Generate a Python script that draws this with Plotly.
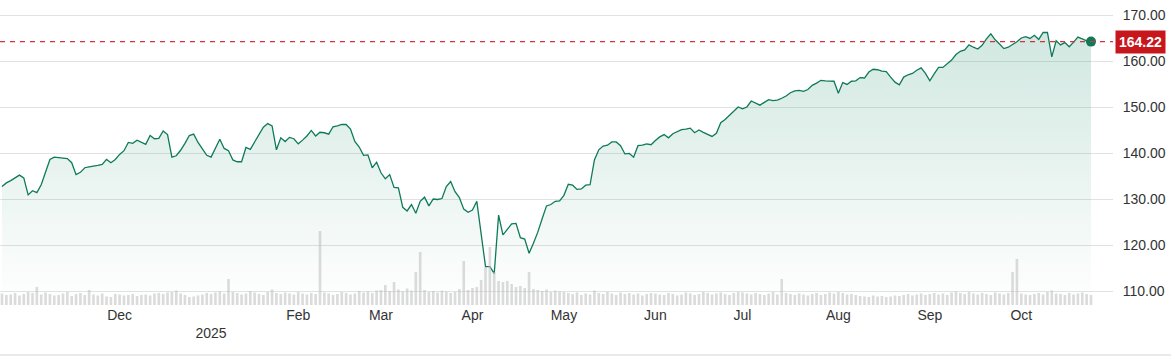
import pandas as pd
import plotly.graph_objects as go

# ---- data ----
holidays = ["2024-11-28", "2024-12-25", "2025-01-01", "2025-01-09", "2025-01-20",
            "2025-02-17", "2025-04-18", "2025-05-26", "2025-06-19", "2025-07-04", "2025-09-01"]
dates = [d.strftime("%Y-%m-%d") for d in pd.bdate_range("2024-10-23", "2025-10-23")
         if d.strftime("%Y-%m-%d") not in holidays]

close = [
    # Oct 2024
    132.7, 133.5, 134.0, 134.6, 135.2, 134.6, 130.9,
    # Nov
    131.8, 131.4, 133.1, 135.8, 138.6, 139.1, 139.0, 138.9, 138.8, 137.9,
    135.3, 135.8, 136.8, 137.0, 137.1, 137.3, 137.5, 138.6, 137.9, 138.6,
    # Dec
    139.7, 140.5, 142.3, 142.1, 142.8, 142.3, 141.9, 143.8, 143.1, 143.2, 144.8,
    144.0, 139.1, 139.4, 140.6, 142.1, 143.8, 144.1, 142.3, 140.9, 139.5,
    # Jan 2025
    139.1, 141.2, 143.0, 141.0, 140.5, 138.5, 138.1, 138.1, 141.2, 140.8,
    142.4, 144.0, 145.6, 146.4, 145.9, 140.7, 143.3, 142.5, 143.4, 143.1,
    # Feb
    142.0, 142.8, 143.7, 144.9, 143.7, 144.5, 144.4, 144.1, 145.7, 145.9,
    146.2, 146.2, 145.2, 142.5, 141.3, 139.5, 139.6, 136.8, 138.0,
    # Mar
    135.7, 134.4, 135.3, 132.5, 132.4, 128.2, 127.4, 128.8, 126.9, 129.5, 130.4,
    128.5, 130.0, 129.9, 130.1, 132.7, 133.8, 131.6, 130.3, 127.8, 127.1,
    # Apr
    127.6, 129.5, 122.5, 115.3, 115.3, 113.8, 126.5, 122.2, 123.4, 124.6, 124.7,
    121.6, 121.3, 118.2, 120.4, 122.8, 125.7, 128.5, 128.8, 129.5, 129.6,
    # May
    130.8, 133.2, 133.0, 132.1, 132.2, 133.0, 133.1, 138.5, 140.7, 141.5, 141.7,
    142.4, 142.4, 141.6, 139.8, 139.9, 139.1, 141.6, 141.7, 142.0, 141.8,
    # Jun
    142.7, 143.5, 144.0, 143.3, 144.2, 144.6, 145.1, 145.2, 145.4, 144.4,
    145.0, 144.5, 144.1, 143.6, 144.3, 146.6, 147.3, 148.2, 149.2, 150.0,
    # Jul
    149.6, 150.0, 151.3, 150.8, 150.4, 151.0, 151.6, 151.4, 151.5, 151.9, 152.4,
    153.1, 153.5, 153.6, 153.4, 153.8, 154.7, 155.2, 155.8, 155.7, 155.6, 155.6,
    # Aug
    153.0, 155.3, 154.9, 155.6, 155.7, 156.4, 156.3, 157.6, 158.2, 158.1, 157.8,
    157.7, 156.5, 155.4, 154.8, 156.5, 157.0, 157.3, 158.0, 158.5, 157.3,
    # Sep
    155.7, 157.2, 158.6, 158.6, 159.3, 160.2, 161.4, 162.1, 162.4, 163.5, 163.0,
    162.6, 163.4, 164.8, 165.9, 164.6, 163.7, 162.7, 163.0, 163.6, 164.2,
    # Oct
    165.0, 165.3, 164.9, 165.6, 164.7, 166.2, 166.2, 160.9, 164.4, 163.5,
    164.0, 163.1, 164.1, 165.2, 164.8, 164.4, 164.22,
]

volume = [
    2.3, 2.0, 2.1, 2.4, 1.9, 2.2, 2.6,
    2.4, 3.6, 2.1, 2.5, 2.2, 1.9, 2.0, 2.3, 2.6, 1.8, 2.2, 2.4, 2.0, 3.0, 2.1, 1.9, 2.3, 1.7, 1.6, 2.2,
    2.1, 1.9, 2.0, 2.2, 1.8, 2.0, 2.1, 1.9, 2.3, 2.4, 2.2, 2.5, 2.6, 2.9, 2.3, 2.0, 1.6, 1.7, 1.9, 2.1, 2.4,
    2.2, 2.5, 2.7, 2.3, 5.2, 2.6, 2.4, 2.1, 2.3, 2.8, 2.5, 2.2, 2.0, 2.6, 3.1, 2.4, 2.2, 2.5, 2.3, 2.1,
    2.6, 2.3, 2.1, 2.4, 2.2, 14.8, 2.5, 2.3, 2.0, 2.2, 2.6, 2.4, 2.1, 2.3, 2.8, 2.5, 2.7, 2.4, 2.9,
    3.0, 4.0, 2.8, 4.6, 3.1, 2.7, 3.3, 2.9, 6.6, 10.6, 3.0, 2.6, 2.8, 2.5, 2.9, 2.7, 2.4, 2.6, 3.2, 8.8, 3.0,
    3.4, 3.6, 5.0, 7.6, 11.6, 6.6, 4.8, 4.6, 4.8, 4.2, 3.6, 3.8, 3.4, 6.6, 3.2, 3.0, 2.8, 3.1, 2.6, 2.9, 2.7,
    2.6, 2.4, 2.2, 2.5, 2.0, 2.3, 2.1, 2.9, 2.4, 2.2, 2.6, 2.3, 2.0, 2.5, 2.2, 2.4, 2.1, 2.3, 1.9, 2.2, 2.4,
    2.3, 2.1, 2.0, 2.4, 2.2, 1.9, 2.1, 2.5, 2.3, 2.0, 2.2, 2.6, 2.4, 2.1, 2.3, 2.5, 2.2, 2.0, 2.4, 2.6,
    2.5, 2.3, 2.1, 2.4, 2.2, 2.0, 2.3, 2.6, 2.1, 5.2, 2.4, 2.2, 2.0, 2.3, 2.1, 1.9, 2.2, 2.4, 2.0, 2.2, 2.5, 2.3,
    2.6, 2.4, 2.1, 2.2, 2.0, 1.8, 1.7, 1.6, 1.9, 1.7, 1.8, 1.6, 1.7, 1.9, 1.8, 2.0, 2.2, 1.9, 2.1, 2.3, 2.0,
    2.2, 2.4, 2.1, 2.3, 2.0, 2.5, 2.7, 2.4, 2.2, 2.6, 2.3, 2.1, 2.4, 2.2, 2.0, 2.5, 2.3, 2.1, 2.4, 6.6, 9.2,
    2.3, 2.1, 2.0, 2.2, 2.4, 2.1, 2.6, 2.9, 2.3, 2.2, 2.0, 2.4, 2.1, 2.3, 2.5, 2.2, 2.0,
]

tick_dates = ["2024-12-02", "2025-01-02", "2025-02-03", "2025-03-03", "2025-04-01", "2025-05-01",
              "2025-06-02", "2025-07-01", "2025-08-01", "2025-09-02", "2025-10-01"]
tick_text = ["Dec", "<br>2025", "Feb", "Mar", "Apr", "May", "Jun", "Jul", "Aug", "Sep", "Oct"]
price_ticks = [110, 120, 130, 140, 150, 160, 170]
last_price = close[-1]

assert len(dates) == len(close) == len(volume), (len(dates), len(close), len(volume))

LINE = "#0e7a5a"
RED = "#c8161d"
FONT = "Liberation Sans, Arial, sans-serif"

fig = go.Figure()

fig.add_trace(go.Bar(
    x=dates, y=volume, yaxis="y2",
    marker=dict(color="rgba(190,190,190,0.55)", line=dict(width=0)),
    hoverinfo="skip", showlegend=False,
))

fig.add_trace(go.Scatter(
    x=dates, y=close, mode="lines",
    line=dict(color=LINE, width=1.3),
    fill="tozeroy",
    fillgradient=dict(type="vertical", start=107, stop=168,
                      colorscale=[[0, "rgba(20,135,100,0.0)"], [1, "rgba(20,135,100,0.2)"]]),
    showlegend=False,
))

fig.add_hline(y=last_price, line=dict(color="#dc2f3c", width=1.4, dash="5px,5px"), layer="above")

fig.add_trace(go.Scatter(
    x=[dates[-1]], y=[last_price], mode="markers",
    marker=dict(color=LINE, size=10), showlegend=False,
))

fig.add_annotation(
    x=1, xref="paper", y=last_price, yref="y",
    xanchor="left", yanchor="middle", xshift=2,
    text="<b>%.2f</b>" % last_price, showarrow=False,
    font=dict(family=FONT, size=14, color="white"),
    bgcolor=RED, borderpad=3,
)

fig.add_shape(type="line", xref="paper", yref="paper",
              x0=0, x1=1171 / 1113, y0=-0.164, y1=-0.164,
              line=dict(color="#d4d4d4", width=1))

fig.update_layout(
    width=1171, height=358,
    margin=dict(l=0, r=58, t=0, b=53),
    paper_bgcolor="white", plot_bgcolor="white",
    bargap=0.4,
    font=dict(family=FONT, size=14, color="#333333"),
    xaxis=dict(type="category", range=[-0.46, 255.05],
               tickmode="array", tickvals=tick_dates, ticktext=tick_text,
               showgrid=False, zeroline=False, showline=False,
               ticks="", tickfont=dict(size=14, color="#333333")),
    yaxis=dict(side="right", range=[106.96, 173.26], tickvals=price_ticks,
               tickformat=".2f", showgrid=True, gridcolor="#e2e2e2", gridwidth=1,
               zeroline=False, showline=False,
               ticks="outside", ticklen=6, tickcolor="rgba(0,0,0,0)",
               tickfont=dict(size=14, color="#333333")),
    yaxis2=dict(overlaying="y", range=[0, 61], visible=False, showgrid=False),
)

fig.write_html(
    "out.html",
    config={"displayModeBar": False},
    post_script="document.body.style.margin='0';document.body.style.overflow='hidden';",
)
